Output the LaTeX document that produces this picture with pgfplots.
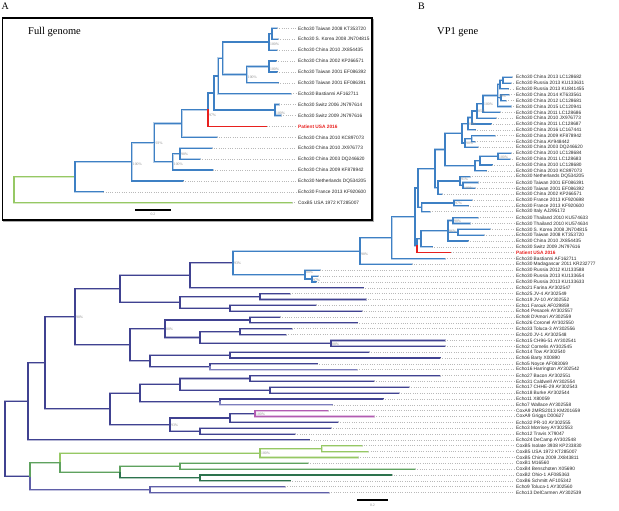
\documentclass[border=0pt]{standalone}
\usepackage{pgfplots}
\pgfplotsset{compat=1.18}
\usepackage{pgfplotstable}
\usepackage{fontspec}
\setmainfont{Liberation Serif}
\newfontfamily\labfam{Liberation Sans}
\newcommand\labfont{\labfam\fontsize{4.8}{5.2}\selectfont}
\newcommand\bsfont{\fontsize{3.8}{4}\selectfont}
\definecolor{e30}{RGB}{62,128,196}
\definecolor{dk}{RGB}{64,66,145}
\definecolor{lp}{RGB}{125,127,190}
\definecolor{redp}{RGB}{232,32,30}
\definecolor{lg}{RGB}{150,200,100}
\definecolor{mg}{RGB}{95,162,95}
\definecolor{dg}{RGB}{45,115,78}
\definecolor{mag}{RGB}{178,92,178}
\definecolor{pur}{RGB}{95,95,168}

% ---------- inset (full genome) ----------
\pgfplotstableread[row sep=\\]{
px pm cx cy\\
272 0.5 277 0\\
272 0.5 278 1\\
269 1.25 272 0.5\\
269 1.25 277 2\\
269 3.5 276 3\\
269 3.5 277 4\\
246.7 4.25 269 3.5\\
246.7 4.25 278 5\\
222.7 2.75 269 1.25\\
222.7 2.75 246.7 4.25\\
218.3 4.375 222.7 2.75\\
218.3 4.375 291 6\\
275 7.5 279 7\\
275 7.5 281 8\\
214 5.9375 218.3 4.375\\
214 5.9375 275 7.5\\
208 7.46875 214 5.9375\\
181.7 8.734 208 7.46875\\
181.7 8.734 216.7 10\\
180 11.5 211.7 11\\
180 11.5 200 12\\
172.7 12.25 180 11.5\\
172.7 12.25 212.7 13\\
154.3 10.492 181.7 8.734\\
154.3 10.492 172.7 12.25\\
131.7 12.246 154.3 10.492\\
131.7 12.246 183 14\\
75 13.623 131.7 12.246\\
75 13.623 103.3 15\\
}\insetblue
\pgfplotstableread[row sep=\\]{
px pm cx cy\\
208 7.46875 267 9\\
}\insetred
\pgfplotstableread[row sep=\\]{
px pm cx cy\\
14 14.81 75 13.623\\
14 14.81 292 16\\
}\insetgreen
\pgfplotstableread[col sep=comma,row sep=\\]{
j,tx,label\\
0,277,Echo30 Taiwan 2008 KT353720\\
1,278,Echo30 S. Korea 2008 JN704815\\
2,277,Echo30 China 2010 JX854435\\
3,276,Echo30 China 2002 KP266571\\
4,277,Echo30 Taiwan 2001 EF086392\\
5,278,Echo30 Taiwan 2001 EF086391\\
6,291,Echo30 Bastianni AF162711\\
7,279,Echo30 Switz 2006 JN797614\\
8,281,Echo30 Switz 2009 JN797616\\
10,216.7,Echo30 China 2010 KC897073\\
11,211.7,Echo30 China 2010 JX976773\\
12,200,Echo30 China 2003 DQ246620\\
13,212.7,Echo30 China 2009 KF878942\\
14,183,Echo30 Netherlands DQ534205\\
15,103.3,Echo30 France 2013 KF920600\\
16,292,CoxB5 USA 1972 KT285007\\
}\insettips
\pgfplotstableread[col sep=comma,row sep=\\]{
j,tx,label\\
9,267,Patient USA 2016\\
}\insetpat
\pgfplotstableread[row sep=\\]{
x y v\\
270 1.45 100\\
270 3.7 100\\
247.7 4.45 100\\
276 7.7 100\\
209 7.9 97\\
155.3 10.49 93\\
181 11.5 98\\
173.7 12.45 100\\
132.7 12.45 100\\
}\insetbs

% ---------- VP1 tree ----------
\pgfplotstableread[row sep=\\]{
px pm cx cy\\
503 0.5 512 0\\
503 0.5 511 1\\
500 1.25 503 0.5\\
500 1.25 508 2\\
501 3.5 509 3\\
501 3.5 506 4\\
497.7 3.125 500 1.25\\
497.7 3.125 501 3.5\\
497.7 3.125 511 5\\
483 4.5625 497.7 3.125\\
483 4.5625 500 6\\
477 5.78125 483 4.5625\\
477 5.78125 496 7\\
472 6.890625 477 5.78125\\
472 6.890625 491 8\\
468 7.9453 472 6.890625\\
468 7.9453 475 9\\
471.7 10.5 495 10\\
471.7 10.5 475 11\\
465 11.25 471.7 10.5\\
465 11.25 478 12\\
462 9.5977 468 7.9453\\
462 9.5977 465 11.25\\
498 13.5 511 13\\
498 13.5 510 14\\
480 14.25 498 13.5\\
480 14.25 492 15\\
475 15.125 480 14.25\\
475 15.125 486 16\\
445 12.361 462 9.5977\\
445 12.361 475 15.125\\
463 18.5 478 18\\
463 18.5 475 19\\
460 17.75 470 17\\
460 17.75 463 18.5\\
438 18.875 460 17.75\\
438 18.875 442 20\\
435 15.618 445 12.361\\
435 15.618 438 18.875\\
454 21.5 472 21\\
454 21.5 468 22\\
421.7 22.25 454 21.5\\
421.7 22.25 430 23\\
418 18.934 435 15.618\\
418 18.934 421.7 22.25\\
453 24.5 478 24\\
453 24.5 470 25\\
458 26.5 490 26\\
458 26.5 484 27\\
448 26.25 453 24.5\\
448 26.25 458 26.5\\
448 26.25 468 28\\
421 27.625 448 26.25\\
421 27.625 432 29\\
417 28.8125 421 27.625\\
415 23.873 418 18.934\\
415 23.873 417 28.8125\\
391.7 27.437 415 23.873\\
391.7 27.437 445 31\\
360 29.718 391.7 27.437\\
360 29.718 411.7 32\\
312 34.5 318 34\\
312 34.5 316 35\\
305 33.75 320 33\\
305 33.75 312 34.5\\
233 31.734 360 29.718\\
233 31.734 305 33.75\\
}\vpblue
\pgfplotstableread[row sep=\\]{
px pm cx cy\\
417 28.8125 451 30\\
}\vpred
\pgfplotstableread[row sep=\\]{
px pm cx cy\\
190 33.867 233 31.734\\
190 33.867 363 36\\
260 37.5 290 37\\
260 37.5 365.7 38\\
230 39.5 315.7 39\\
230 39.5 361.7 40\\
180 38.5 260 37.5\\
180 38.5 230 39.5\\
120 36.18 190 33.867\\
120 36.18 180 38.5\\
250 41.5 280 41\\
250 41.5 357 42\\
240 43.5 292 43\\
240 43.5 286 44\\
331 45.5 445 45\\
331 45.5 445 46\\
200 44.5 240 43.5\\
200 44.5 331 45.5\\
165 43 250 41.5\\
165 43 200 44.5\\
230 47.5 369 47\\
230 47.5 440 48\\
210 49.5 317 49\\
150 48.5 230 47.5\\
150 48.5 210 49.5\\
130 45.75 165 43\\
130 45.75 150 48.5\\
75 40.965 120 36.18\\
75 40.965 130 45.75\\
250 51.5 440 51\\
250 51.5 374 52\\
270 53.5 409 53\\
270 53.5 399 54\\
180 52.5 250 51.5\\
180 52.5 270 53.5\\
220 55.5 383 55\\
140 54 180 52.5\\
140 54 220 55.5\\
230 58.25 255 57.5\\
230 58.25 338 59\\
200 60.5 331 60\\
200 60.5 295 61\\
170 59.375 230 58.25\\
170 59.375 200 60.5\\
110 56.6875 140 54\\
110 56.6875 170 59.375\\
45 48.826 75 40.965\\
45 48.826 110 56.6875\\
28 55.413 45 48.826\\
28 55.413 309 62\\
5 61.8 28 55.413\\
5 61.8 30 68.1875\\
}\vpdark
\pgfplotstableread[row sep=\\]{
px pm cx cy\\
210 49.5 357 50\\
220 55.5 332 56\\
}\vplight
\pgfplotstableread[row sep=\\]{
px pm cx cy\\
255 57.5 328 57\\
255 57.5 374 58\\
}\vpmag
\pgfplotstableread[row sep=\\]{
px pm cx cy\\
150 70.5 285 70\\
150 70.5 329 71\\
30 68.1875 150 70.5\\
}\vppur
\pgfplotstableread[row sep=\\]{
px pm cx cy\\
321.7 63.5 361.7 63\\
321.7 63.5 368.3 64\\
260 64.25 321.7 63.5\\
260 64.25 358 65\\
60 65.875 260 64.25\\
}\vplg
\pgfplotstableread[row sep=\\]{
px pm cx cy\\
180 66.5 308 66\\
180 66.5 415 67\\
120 67.5 180 66.5\\
60 65.875 120 67.5\\
30 68.1875 60 65.875\\
}\vpmg
\pgfplotstableread[row sep=\\]{
px pm cx cy\\
120 67.5 200 68.5\\
200 68.5 391.7 68\\
200 68.5 290 69\\
}\vpdg
\pgfplotstableread[col sep=comma,row sep=\\]{
i,tx,label\\
0,512,Echo30 China 2013 LC128682\\
1,511,Echo30 Russia 2013 KU133631\\
2,508,Echo30 Russia 2013 KU841455\\
3,509,Echo30 China 2014 KT633561\\
4,506,Echo30 China 2012 LC128681\\
5,511,Echo30 China 2015 LC120941\\
6,500,Echo30 China 2011 LC128686\\
7,496,Echo30 China 2010 JX976773\\
8,491,Echo30 China 2011 LC128687\\
9,475,Echo30 China 2016 LC167441\\
10,495,Echo30 China 2009 KF878942\\
11,475,Echo30 China AY948442\\
12,478,Echo30 China 2003 DQ246620\\
13,511,Echo30 China 2010 LC128684\\
14,510,Echo30 China 2011 LC128683\\
15,492,Echo30 China 2010 LC128680\\
16,486,Echo30 China 2010 KC897073\\
17,470,Echo30 Netherlands DQ534205\\
18,478,Echo30 Taiwan 2001 EF086391\\
19,475,Echo30 Taiwan 2001 EF086392\\
20,442,Echo30 China 2002 KP266571\\
21,472,Echo30 France 2013 KF920698\\
22,468,Echo30 France 2013 KF920600\\
23,430,Echo30 Italy AJ295172\\
24,478,Echo30 Thailand 2010 KU574633\\
25,470,Echo30 Thailand 2010 KU574634\\
26,490,Echo30 S. Korea 2008 JN704815\\
27,484,Echo30 Taiwan 2008 KT353720\\
28,468,Echo30 China 2010 JX854435\\
29,432,Echo30 Switz 2009 JN797616\\
31,445,Echo30 Bastianni AF162711\\
32,411.7,Echo30 Madagascar 2011 KR232777\\
33,320,Echo30 Russia 2012 KU133588\\
34,318,Echo30 Russia 2013 KU133654\\
35,316,Echo30 Russia 2013 KU133633\\
36,363,Echo21 Farina AY302547\\
37,290,Echo25 JV-4 AY302549\\
38,365.7,Echo19 JV-10 AY302552\\
39,315.7,Echo1 Farouk AF029859\\
40,361.7,Echo4 Pesacek AY302557\\
41,280,Echo8 D'Amori AY302559\\
42,357,Echo26 Coronel AY302550\\
43,292,Echo33 Toluca-3 AY302556\\
44,286,Echo20 JV-1 AY302548\\
45,445,Echo15 CH96-51 AY302541\\
46,445,Echo2 Cornelis AY302545\\
47,369,Echo14 Tow AY302540\\
48,440,Echo6 Barty X00890\\
49,317,Echo5 Noyce AF083069\\
50,357,Echo16 Harrington AY302542\\
51,440,Echo27 Bacon AY302551\\
52,374,Echo31 Caldwell AY302554\\
53,409,Echo17 CHHE-29 AY302543\\
54,399,Echo18 Burke AY302544\\
55,383,Echo11 X80059\\
56,332,Echo7 Wallace AY302558\\
57,328,CoxA9 2MRS2013 KM201659\\
58,374,CoxA9 Griggs D00627\\
59,338,Echo32 PR-10 AY302555\\
60,331,Echo3 Morrisey AY302553\\
61,295,Echo12 Travis X79047\\
62,309,Echo24 DeCamp AY302548\\
63,361.7,CoxB5 Isolate 3938 KP233830\\
64,368.3,CoxB5 USA 1972 KT285007\\
65,358,CoxB5 China 2009 JX843811\\
66,308,CoxB1 M16560\\
67,415,CoxB4 Benschoten X05690\\
68,391.7,CoxB2 Ohio-1 AF085363\\
69,290,CoxB6 Schmitt AF105342\\
70,285,Echo9 Toluca-1 AY302560\\
71,329,Echo13 DelCarmen AY302539\\
}\vptips
\pgfplotstableread[col sep=comma,row sep=\\]{
i,tx,label\\
30,451,Patient USA 2016\\
}\vppat
\pgfplotstableread[row sep=\\]{
x y v\\
498.7 3.125 99\\
484 4.56 100\\
478 5.78 85\\
469 7.95 89\\
466 11.25 98\\
499 13.5 100\\
461 17.4 91\\
464 18.9 100\\
455 21.5 97\\
449 26.25 96\\
454 24.5 98\\
306 33.3 80\\
313 34.6 97\\
361 30.2 98\\
234 31.73 93\\
76 40.96 98\\
166 43 88\\
332 45.5 88\\
256 57.5 100\\
171 59.4 93\\
261 64.25 100\\
}\vpbs

\newcommand{\halo}[3]{%
\addplot[draw=#2!38!white, line width=#3, line cap=rect, quiver={u=0, v=\thisrow{cy}-\thisrow{pm}}] table[x=px, y=pm] {#1};
\addplot[draw=#2!38!white, line width=#3, line cap=rect, quiver={u=\thisrow{cx}-\thisrow{px}, v=0}] table[x=px, y=cy] {#1};
}
\newcommand{\core}[3]{%
\addplot[draw=#2, line width=#3, line cap=rect, quiver={u=0, v=\thisrow{cy}-\thisrow{pm}}] table[x=px, y=pm] {#1};
\addplot[draw=#2, line width=#3, line cap=rect, quiver={u=\thisrow{cx}-\thisrow{px}, v=0}] table[x=px, y=cy] {#1};
}
\pgfplotsset{base/.style={width=619bp, height=511bp, scale only axis, xmin=0, xmax=619,
  hide axis, clip=false, y dir=reverse, at={(0,0)}, anchor=north west},
  leader/.style={draw=gray!55, line width=0.55pt, dash pattern=on 0.9pt off 1.4pt},
  tiplab/.style={draw=none, mark=none, nodes near coords, point meta=explicit symbolic,
   every node near coord/.append style={anchor=west, inner sep=0pt, font=\labfont, text=black!85}},
  bslab/.style={draw=none, mark=none, nodes near coords={\pgfplotspointmeta\%}, point meta=explicit symbolic,
   every node near coord/.append style={anchor=west, inner sep=0pt, yshift=-0.6pt, font=\bsfont, text=gray!90}}}

\begin{document}
\begin{tikzpicture}
\useasboundingbox (0,-511bp) rectangle (619bp,0);
% ===== Inset A =====
\begin{axis}[base, ymin=-2.5963, ymax=44.2844]
\addplot[draw=gray!65, line width=1.3pt, line cap=rect] coordinates {(373.6,-0.8) (373.6,17.73) (4,17.73)};
\addplot[draw=black, line width=1.3pt, line cap=rect] coordinates {(2.5,-0.945) (372,-0.945) (372,17.587) (2.5,17.587) (2.5,-0.945)};
\halo{\insetgreen}{lg}{2.3pt}
\halo{\insetblue}{e30}{2.3pt}
\core{\insetgreen}{lg}{1.2pt}
\core{\insetblue}{e30}{1.2pt}
\core{\insetred}{redp}{1.4pt}
\addplot[leader, quiver={u=296-\thisrow{tx}, v=0}] table[x=tx, y=j] {\insettips};
\addplot[leader, quiver={u=296-\thisrow{tx}, v=0}] table[x=tx, y=j] {\insetpat};
\addplot[tiplab] table[x expr=298, y=j, meta=label] {\insettips};
\addplot[draw=none, mark=none, nodes near coords, point meta=explicit symbolic,
   every node near coord/.append style={anchor=west, inner sep=0pt, font=\labfont\bfseries, text=redp}]
   table[x expr=298, y=j, meta=label] {\insetpat};
\addplot[bslab] table[x=x, y=y, meta=v] {\insetbs};
\addplot[draw=black, line width=1.1pt] coordinates {(135,16.67) (171,16.67)};
\node[font=\bsfont, text=gray!90] at (axis cs:153,17.1) {0.2};
\node[anchor=west, inner sep=0pt, font=\fontsize{10}{11}\selectfont] at (axis cs:1.5,-2.05) {A};
\node[anchor=west, inner sep=0pt, font=\fontsize{10.5}{12}\selectfont] at (axis cs:28,0.34) {Full genome};
\end{axis}
% ===== VP1 tree B =====
\begin{axis}[base, ymin=-13.1966, ymax=74.1538]
\halo{\vpdark}{dk}{2.1pt}
\halo{\vplight}{lp}{2.1pt}
\halo{\vppur}{pur}{2.1pt}
\halo{\vpmag}{mag}{2.1pt}
\halo{\vplg}{lg}{2.1pt}
\halo{\vpmg}{mg}{2.1pt}
\halo{\vpdg}{dg}{2.1pt}
\halo{\vpblue}{e30}{2.1pt}
\core{\vpdark}{dk}{1.1pt}
\core{\vplight}{lp}{1.1pt}
\core{\vppur}{pur}{1.1pt}
\core{\vpmag}{mag}{1.1pt}
\core{\vplg}{lg}{1.1pt}
\core{\vpmg}{mg}{1.1pt}
\core{\vpdg}{dg}{1.1pt}
\core{\vpblue}{e30}{1.1pt}
\core{\vpred}{redp}{1.4pt}
\addplot[leader, quiver={u=514-\thisrow{tx}, v=0}] table[x=tx, y=i] {\vptips};
\addplot[leader, quiver={u=514-\thisrow{tx}, v=0}] table[x=tx, y=i] {\vppat};
\addplot[tiplab] table[x expr=516, y=i, meta=label] {\vptips};
\addplot[draw=none, mark=none, nodes near coords, point meta=explicit symbolic,
   every node near coord/.append style={anchor=west, inner sep=0pt, font=\labfont\bfseries, text=redp}]
   table[x expr=516, y=i, meta=label] {\vppat};
\addplot[bslab] table[x=x, y=y, meta=v] {\vpbs};
\addplot[draw=black, line width=1.1pt] coordinates {(357,72.27) (388,72.27)};
\node[font=\bsfont, text=gray!90] at (axis cs:372.5,73.25) {0.2};
\node[anchor=west, inner sep=0pt, font=\fontsize{10}{11}\selectfont] at (axis cs:418,-12.17) {B};
\node[anchor=west, inner sep=0pt, font=\fontsize{10.5}{12}\selectfont] at (axis cs:437,-7.73) {VP1 gene};
\end{axis}
\end{tikzpicture}
\end{document}
